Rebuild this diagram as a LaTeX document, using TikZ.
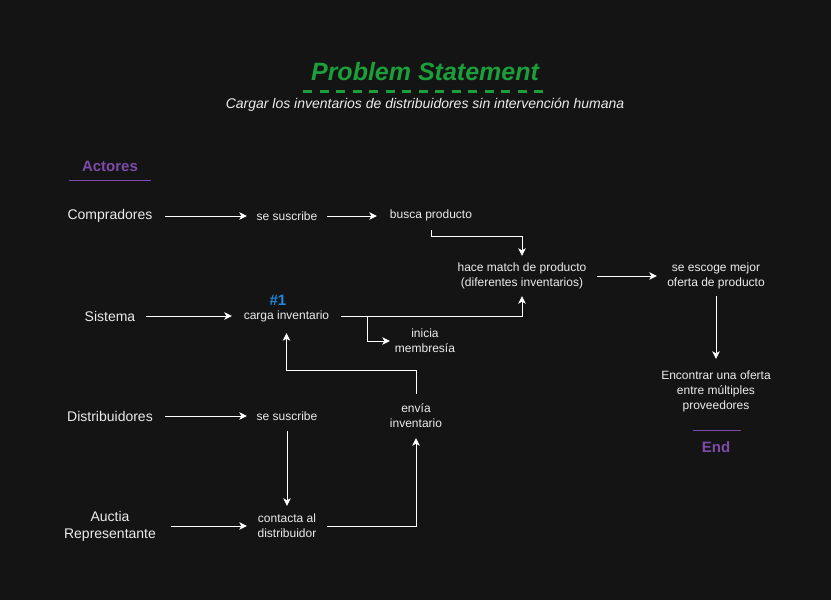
\documentclass[tikz,border=0pt]{standalone}
\usepackage{fontspec}
\setmainfont{Liberation Sans}
\usetikzlibrary{arrows.meta}
\definecolor{bg}{RGB}{20,20,20}
\definecolor{txt}{RGB}{236,236,236}
\definecolor{grn}{RGB}{28,158,58}
\definecolor{prp}{RGB}{125,75,170}
\definecolor{blu}{RGB}{30,136,229}
\begin{document}
\begin{tikzpicture}[x=1pt,y=-1pt,
  lab/.style={text=txt, font=\fontsize{12}{15}\selectfont, align=center, inner sep=0pt},
  actor/.style={text=txt, font=\fontsize{14}{17}\selectfont, align=center, inner sep=0pt},
  heading/.style={font=\fontsize{15}{18}\selectfont\bfseries, inner sep=0pt},
  arr/.style={draw=white, line width=1pt, -{Stealth[length=7.5pt,width=7.5pt,inset=2pt]}},
  rule/.style={draw=prp, line width=1pt}]
\useasboundingbox[fill=bg] (0,0) rectangle (831,600);

% title
\node[font=\fontsize{25}{30}\selectfont\bfseries\itshape, text=grn, inner sep=0pt] (title) at (425,72) {Problem Statement};
\draw[grn, line width=3pt, dash pattern=on 9pt off 7.5pt] (303,91) -- (545,91);
\node[font=\fontsize{14}{17}\selectfont\itshape, text=txt, inner sep=0pt] (sub) at (425,105) {Cargar los inventarios de distribuidores sin intervención humana};

% actors heading
\node[heading, text=prp] (act) at (110,166) {Actores};
\draw[rule] (69,180) -- (151,180);

% actors
\node[actor, minimum width=110pt, minimum height=30pt] (comp) at (110,216) {Compradores};
\node[actor, minimum width=72pt, minimum height=30pt] (sis) at (110,316) {Sistema};
\node[actor, minimum width=110pt, minimum height=30pt] (dist) at (110,416) {Distribuidores};
\node[actor, minimum width=122pt, minimum height=40pt] (auc) at (110,526) {Auctia\\Representante};

% steps
\node[lab, minimum width=80pt, minimum height=30pt] (sus1) at (287,216) {se suscribe};
\node[lab, minimum width=108pt, minimum height=30pt] (busca) at (431,215) {busca producto};
\node[lab, minimum width=150pt, minimum height=40pt] (match) at (522,276) {hace match de producto\\(diferentes inventarios)};
\node[lab, minimum width=118pt, minimum height=40pt] (escoge) at (716,276) {se escoge mejor\\oferta de producto};
\node[lab, minimum width=120pt, minimum height=64pt] (enc) at (716,391) {Encontrar una oferta\\entre múltiples\\proveedores};
\node[heading, text=blu] (n1) at (278,300) {\#1};
\node[lab, minimum width=109pt, minimum height=34pt] (carga) at (286.5,316) {carga inventario};
\node[lab, minimum width=70pt, minimum height=40pt] (ini) at (425,341) {inicia\\membresía};
\node[lab, minimum width=80pt, minimum height=30pt] (sus2) at (287,416) {se suscribe};
\node[lab, minimum width=60pt, minimum height=44pt] (env) at (416,416) {envía\\inventario};
\node[lab, minimum width=80pt, minimum height=40pt] (cont) at (287,526) {contacta al\\distribuidor};

% end
\draw[rule] (693,430) -- (741,430);
\node[heading, text=prp] (end) at (716,447) {End};

% connectors
\draw[arr] (comp) -- (sus1);
\draw[arr] (sus1) -- (busca.west |- sus1.east);
\draw[arr] (busca.south) -- ++(0,6) -| (match.north);
\draw[arr] (match) -- (escoge);
\draw[arr] (escoge) -- (enc);
\draw[arr] (sis) -- (carga);
\draw[arr] (carga.east) -| (match.south);
\draw[arr] (carga.east) ++(26,0) |- (ini.west);
\draw[arr] (dist) -- (sus2);
\draw[arr] (sus2) -- (cont);
\draw[arr] (auc.east |- cont.west) -- (cont.west);
\draw[arr] (cont.east) -| (env.south);
\draw[arr] (env.north) -- ++(0,-23) -| (carga.south);
\end{tikzpicture}
\end{document}
